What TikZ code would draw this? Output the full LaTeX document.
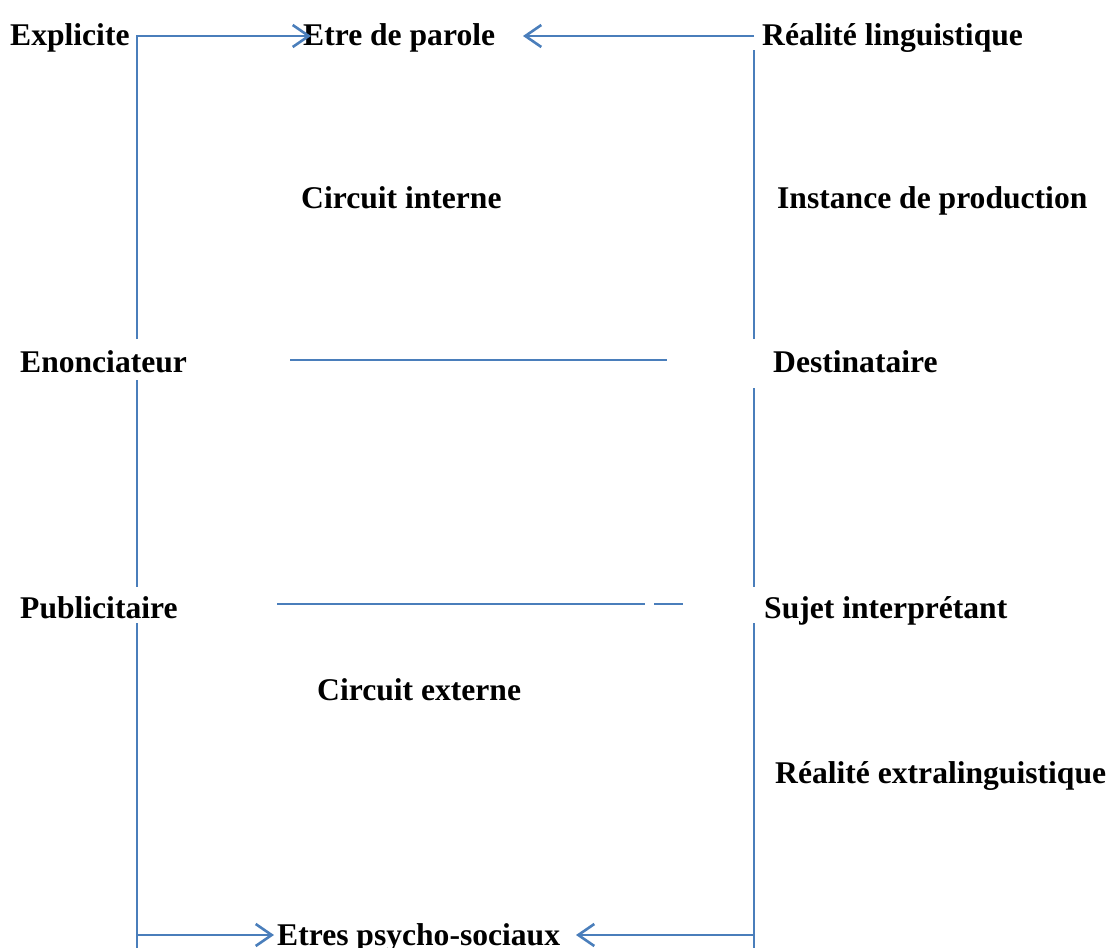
\documentclass[tikz,border=0pt]{standalone}
\usepackage{fontspec}
\setmainfont{Liberation Serif}
\usetikzlibrary{arrows.meta}
\definecolor{lineblue}{RGB}{74,126,187}
\begin{document}
\begin{tikzpicture}[x=1pt,y=-1pt,
  lab/.style={anchor=base west,inner sep=0pt,font=\fontsize{31.6}{38}\selectfont\bfseries},
  ln/.style={draw=lineblue,line width=2.8pt},
  arr/.style={ln,-{Straight Barb[length=16pt,width=22pt,line width=2.6pt]}}]
\useasboundingbox (0,0) rectangle (1109,948);
% labels
\node[lab] (expl) at (10,45) {Explicite};
\node[lab] (etre) at (303,45) {Etre de parole};
\node[lab] (reall) at (762,45) {Réalité linguistique};
\node[lab] (cint) at (301,208) {Circuit interne};
\node[lab] (inst) at (777,208) {Instance de production};
\node[lab] (enon) at (20,372) {Enonciateur};
\node[lab] (dest) at (773,372) {Destinataire};
\node[lab] (pub) at (20,618) {Publicitaire};
\node[lab] (suj) at (764,618) {Sujet interprétant};
\node[lab] (cext) at (317,700) {Circuit externe};
\node[lab] (reale) at (775,783) {Réalité extralinguistique};
\node[lab] (etres) at (277,945) {Etres psycho-sociaux};
% coordinates
\coordinate (l1) at (137,339);
\coordinate (l2) at (137,380);
\coordinate (l3) at (137,587);
\coordinate (l4) at (137,623);
\coordinate (l5) at (137,948);
\coordinate (lb) at (137,935);
\coordinate (r0) at (754,36);
\coordinate (r1) at (754,50);
\coordinate (r2) at (754,339);
\coordinate (r3) at (754,388);
\coordinate (r4) at (754,587);
\coordinate (r5) at (754,623);
\coordinate (r6) at (754,948);
\coordinate (rb) at (754,935);
\coordinate (t1) at (311,36);
\coordinate (t2) at (523,36);
\coordinate (b1) at (274,935);
\coordinate (b2) at (576,935);
\coordinate (m1a) at (290,360);
\coordinate (m1b) at (667,360);
\coordinate (m2a) at (277,604);
\coordinate (m2b) at (645,604);
\coordinate (m2c) at (654,604);
\coordinate (m2d) at (683,604);
% connectors
\draw[arr] (l1) |- (t1);
\draw[ln] (l2) -- (l3);
\draw[ln] (l4) -- (l5);
\draw[arr] (lb) -- (b1);
\draw[arr] (r0) -- (t2);
\draw[ln] (r1) -- (r2);
\draw[ln] (r3) -- (r4);
\draw[ln] (r5) -- (r6);
\draw[arr] (rb) -- (b2);
\draw[ln] (m1a) -- (m1b);
\draw[ln] (m2a) -- (m2b);
\draw[ln] (m2c) -- (m2d);
\end{tikzpicture}
\end{document}
